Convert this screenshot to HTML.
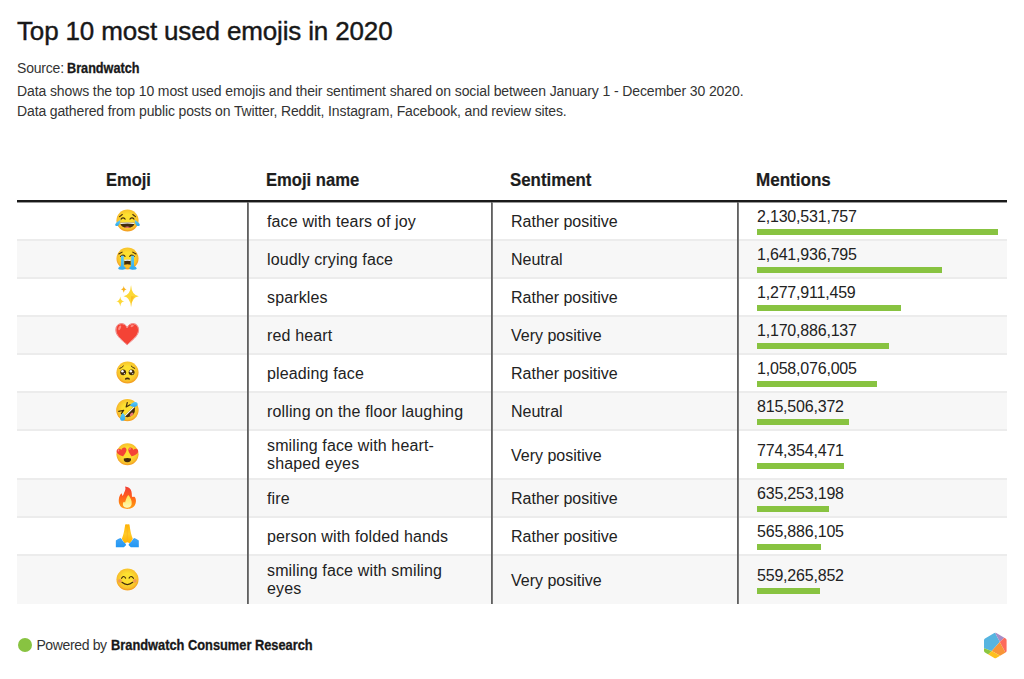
<!DOCTYPE html>
<html><head><meta charset="utf-8">
<style>
*{margin:0;padding:0;box-sizing:border-box}
html,body{width:1024px;height:679px;background:#fff;overflow:hidden}
body{position:relative;font-family:"Liberation Sans",sans-serif;color:#1d1d1d}
.t{position:absolute;white-space:nowrap;line-height:1;transform-origin:0 0}
#title{left:17px;top:18.4px;font-size:26px;color:#181818;letter-spacing:-0.15px;-webkit-text-stroke:0.4px #181818}
.note{font-size:14px;color:#333}
.hd{font-size:18px;font-weight:bold;color:#1d1d1d;-webkit-text-stroke:0.2px #1d1d1d}
b{-webkit-text-stroke:0.3px #181818}
.bd{font-size:16px;color:#222}
.num{letter-spacing:-0.2px}
.nm{letter-spacing:0.14px}
.row{position:absolute;left:17px;width:990px}
.g{background:#f7f7f7}
.bl{position:absolute;left:17px;width:990px;height:2px;background:#ececec}
.vl{position:absolute;width:2px;top:202px;height:402px;background:linear-gradient(to right,#606060 50%,#7a7a7a 50%)}
.bar{position:absolute;left:757px;height:6px;background:#88c341}
.emo{position:absolute;left:115.3px;width:25px;height:25px}
</style></head><body>
<div class="t" id="title">Top 10 most used emojis in 2020</div>
<div class="t note" style="left:17px;top:60.7px;letter-spacing:-0.2px">Source:</div>
<div class="t note sb" style="left:67px;top:60.7px;transform:scaleX(0.905)"><b style="color:#181818">Brandwatch</b></div>
<div class="t note" style="left:17px;top:84px;letter-spacing:-0.107px">Data shows the top 10 most used emojis and their sentiment shared on social between January 1 - December 30 2020.</div>
<div class="t note" style="left:17px;top:104px;letter-spacing:-0.133px">Data gathered from public posts on Twitter, Reddit, Instagram, Facebook, and review sites.</div>

<!-- header -->
<div class="t hd" style="left:105.8px;top:171px;transform:scaleX(0.917)">Emoji</div>
<div class="t hd" style="left:266px;top:171px;transform:scaleX(0.923)">Emoji name</div>
<div class="t hd" style="left:509.5px;top:171px;transform:scaleX(0.936)">Sentiment</div>
<div class="t hd" style="left:756px;top:171px;transform:scaleX(0.947)">Mentions</div>
<div style="position:absolute;left:17px;top:200px;width:990px;height:2px;background:#1a1a1a;box-shadow:0 1px 0 rgba(26,26,26,0.45)"></div>

<!-- row backgrounds -->
<div class="row g" style="top:241px;height:36px"></div>
<div class="row g" style="top:317px;height:36px"></div>
<div class="row g" style="top:393px;height:36px"></div>
<div class="row g" style="top:480px;height:36px"></div>
<div class="row g" style="top:556px;height:48px"></div>
<div class="bl" style="top:239px"></div>
<div class="bl" style="top:277px"></div>
<div class="bl" style="top:315px"></div>
<div class="bl" style="top:353px"></div>
<div class="bl" style="top:391px"></div>
<div class="bl" style="top:429px"></div>
<div class="bl" style="top:478px"></div>
<div class="bl" style="top:516px"></div>
<div class="bl" style="top:554px"></div>
<div class="vl" style="left:247px"></div>
<div class="vl" style="left:491px"></div>
<div class="vl" style="left:737px"></div>

<svg width="0" height="0" style="position:absolute"><defs>
<radialGradient id="fg" cx="63.6" cy="58" r="58" gradientUnits="userSpaceOnUse"><stop offset="0.45" stop-color="#FDE030"/><stop offset="0.88" stop-color="#F7C02B"/><stop offset="1" stop-color="#F4A223"/></radialGradient>
<linearGradient id="tear" x1="0" y1="0" x2="0" y2="1"><stop offset="0" stop-color="#5ecdf7"/><stop offset="1" stop-color="#2fa8ef"/></linearGradient>
<linearGradient id="flo" x1="0" y1="0" x2="0" y2="1"><stop offset="0" stop-color="#ef3e36"/><stop offset="0.4" stop-color="#ff5a1f"/><stop offset="0.8" stop-color="#ff8a10"/><stop offset="1" stop-color="#ffa21c"/></linearGradient>
<linearGradient id="fli" x1="0" y1="0" x2="0" y2="1"><stop offset="0" stop-color="#fde74c"/><stop offset="1" stop-color="#fff8b8"/></linearGradient>
<linearGradient id="hand" x1="0" y1="0" x2="0" y2="1"><stop offset="0" stop-color="#FFB300"/><stop offset="0.5" stop-color="#FFCA28"/><stop offset="1" stop-color="#FFB300"/></linearGradient>
<linearGradient id="slv" x1="0" y1="0" x2="0" y2="1"><stop offset="0" stop-color="#42A5F5"/><stop offset="1" stop-color="#2196F3"/></linearGradient>
<symbol id="e-joy" viewBox="0 0 128 128">
<circle cx="64" cy="64" r="58" fill="#fff"/>
<circle cx="64" cy="64" r="56.5" fill="url(#fg)"/>
<g fill="none" stroke="#422B0D" stroke-width="5.5" stroke-linecap="round">
<path d="M23.5 44 L37.5 33.5"/><path d="M105 44 L91 33.5"/>
<path d="M31 57 Q41 44 52 57"/><path d="M76.5 57 Q87 44 97.5 57"/>
</g>
<path d="M26.5 76 Q64 72 100.5 76 Q98 102 64 103 Q29 102 26.5 76Z" fill="#422B0D"/>
<path d="M27 76 Q64 72 100 76 L99.5 81.5 Q64 77.5 27.5 81.5Z" fill="#fff"/>
<path d="M48 99 Q63 90 78 99 Q64 105 48 99Z" fill="#ED7770"/>
<path d="M27 61 C21 66 4 73 1 84 C0 90 6 93 12 92 C20 90 26 80 27 61Z" fill="url(#tear)"/>
<path d="M101 61 C107 66 124 73 127 84 C128 90 122 93 116 92 C108 90 102 80 101 61Z" fill="url(#tear)"/>
</symbol>

<symbol id="e-sob" viewBox="0 0 128 128">
<circle cx="64" cy="64" r="58" fill="#fff"/>
<circle cx="64" cy="64" r="56.5" fill="url(#fg)"/>
<g fill="none" stroke="#422B0D" stroke-width="5.5" stroke-linecap="round">
<path d="M19.5 41 L36.5 31.5"/><path d="M107.5 41 L90.5 31.5"/>
<path d="M28 54 Q40 40 51.5 53"/><path d="M75 53 Q87 40 98.5 54"/>
</g>
<path d="M47.5 72 Q63.5 68 80 72 L80 97 Q63.5 101 47.5 97Z" fill="#422B0D"/>
<path d="M47.5 71 Q63.5 67 80 71 L80 77 Q63.5 74 47.5 77Z" fill="#fff"/>
<path d="M48 96 Q63.5 90 79.5 96 Q77 108 63.5 109 Q50 108 48 96Z" fill="#FBC02D"/>
<path d="M30.5 50 L44.5 50 L45 103 Q55 108 55.5 117 Q50 122 36 121 Q18 121 16 116 Q17 107 30.5 103Z" fill="url(#tear)"/>
<path d="M83 50 L97 50 L97.5 103 Q110 107 111.5 116 Q109 121 92 121 Q78 122 72.5 117 Q73 108 82.5 103Z" fill="url(#tear)"/>
</symbol>

<symbol id="e-spark" viewBox="0 0 128 128">
<path d="M82 5.7 Q85.5 58.5 121.7 62.3 Q85.5 66 82 119 Q78.5 66 43.7 62.3 Q78.5 58.5 82 5.7Z" fill="#FDD835"/>
<path d="M82 62.3 L82 119 Q85 71 101 63.5Z" fill="#F9B825" opacity="0.8"/>
<path d="M44.8 9 Q46.5 25.5 59.5 27.2 Q46.5 29 44.8 44.2 Q43.1 29 30.1 27.2 Q43.1 25.5 44.8 9Z" fill="#F9B21E"/>
<path d="M26.7 63.4 Q28.9 86 48.2 88.3 Q28.9 91 26.7 115.5 Q24.5 91 6.3 88.3 Q24.5 86 26.7 63.4Z" fill="#FDD835"/>
</symbol>

<symbol id="e-heart" viewBox="0 0 128 128">
<path d="M62 29 C56 14 44 7 31 8 C14 9 4 23 4 41 C4 72 38 94 62 117 C86 94 121 72 121 41 C121 23 111 9 94 8 C81 7 68 14 62 29Z" fill="#F44336" stroke="#fff" stroke-width="5" stroke-linejoin="round"/>
<path d="M62 29 C56 14 44 7 31 8 C14 9 4 23 4 41 C4 72 38 94 62 117 C86 94 121 72 121 41 C121 23 111 9 94 8 C81 7 68 14 62 29Z" fill="none" stroke="#E53935" stroke-width="3"/>
<ellipse cx="24" cy="30" rx="6" ry="13" transform="rotate(25 24 30)" fill="#FF8A80"/>
<ellipse cx="88" cy="20" rx="9" ry="5" transform="rotate(-25 88 20)" fill="#FF8A80"/>
</symbol>

<symbol id="e-plead" viewBox="0 0 128 128">
<circle cx="64" cy="64" r="58" fill="#fff"/>
<circle cx="64" cy="64" r="56.5" fill="url(#fg)"/>
<g fill="none" stroke="#422B0D" stroke-width="5" stroke-linecap="round">
<path d="M25 43 Q35 40 43 31"/><path d="M101 43 Q91 40 83 31"/>
</g>
<circle cx="42" cy="63" r="15" fill="#422B0D"/>
<circle cx="85" cy="63" r="15" fill="#422B0D"/>
<circle cx="38" cy="58" r="6.5" fill="#fff"/><circle cx="81" cy="58" r="6.5" fill="#fff"/>
<circle cx="48" cy="70" r="3" fill="#fff"/><circle cx="91" cy="70" r="3" fill="#fff"/>
<path d="M51 101 Q50 89 63.5 89 Q77 89 76 101 Q63.5 96 51 101Z" fill="#422B0D"/>
</symbol>

<symbol id="e-rofl" viewBox="0 0 128 128">
<circle cx="63.5" cy="62" r="59" fill="#fff"/>
<circle cx="63.5" cy="62" r="57.5" fill="url(#fg)"/>
<path d="M97 44 L50 90 Q54 99 64 98 Q82 95 94 83 Q104 71 102 52 Q101 46 97 44Z" fill="#422B0D"/>
<path d="M97 44 L50 90 L53.5 93.6 L100.5 47.6Z" fill="#fff"/>
<ellipse cx="85" cy="84" rx="11" ry="7" transform="rotate(-45 85 84)" fill="#ED7770"/>
<g fill="none" stroke="#422B0D" stroke-width="6" stroke-linecap="round" stroke-linejoin="round">
<path d="M63 23 L57 46 L77 34"/><path d="M19 68.6 L44.5 62.7 L32.8 80.3"/>
</g>
<path d="M76 40 Q84 26 98 21 Q114 17 116 30 Q117 43 104 45 Q90 47 76 40Z" fill="url(#tear)"/>
<path d="M40 76 Q51 86 52 100 Q53 116 39 117 Q26 117 26 104 Q27 88 40 76Z" fill="url(#tear)"/>
</symbol>

<symbol id="e-hearteyes" viewBox="0 0 128 128">
<circle cx="64" cy="63" r="58" fill="#fff"/>
<circle cx="64" cy="63" r="56.5" fill="url(#fg)"/>
<g fill="#F44336">
<path transform="translate(35.5 51) rotate(-15) scale(1.07)" d="M0 -10 C-4 -20 -22 -23 -24 -8 C-25 4 -9 14 0 22 C9 14 25 4 24 -8 C22 -23 4 -20 0 -10Z"/>
<path transform="translate(91.5 51) rotate(15) scale(1.07)" d="M0 -10 C-4 -20 -22 -23 -24 -8 C-25 4 -9 14 0 22 C9 14 25 4 24 -8 C22 -23 4 -20 0 -10Z"/>
</g>
<ellipse cx="18" cy="43" rx="3.5" ry="6" fill="#FF8A80" transform="rotate(20 18 43)"/>
<ellipse cx="77" cy="35" rx="3.5" ry="6" fill="#FF8A80" transform="rotate(20 77 35)"/>
<path d="M45 84 Q63 79 82 84 Q84 103 63 103.5 Q43 103 45 84Z" fill="#422B0D"/>
</symbol>

<symbol id="e-fire" viewBox="0 0 128 128">
<path d="M51.4 7.8 C60 9 66 11 69 12.7 C76 17 79 21 80.8 24.5 C84 31 85.5 37 85.7 42.1 C86.5 50 86.5 54 86.7 57.8 C88 60.5 89 61.5 90.6 61.7 C94 61.5 97 60.7 99.4 60.7 C102.5 63 104 66 105.3 69.5 C107 75 107.5 79 107.2 83.3 C107 91 105 97 102.3 102.9 C98 110 93 114 88.6 116.6 C80 121 72 122.5 63.1 122.5 C54 122.5 45 120 37.7 116.6 C31 113 27 107 23.9 100.9 C20.5 94 19 88 19 81.3 C19 75 19.8 69 21 63.7 C23 57 25 52 27.9 48 C30 45 32 43 33.7 42.1 C35 45 35.8 48 36.7 50 C37.5 53 38.5 55 39.6 55.8 C41.5 52 43.5 47 45.5 42.1 C48 37 50 33 51.4 28.4 C53 24 53.8 20 53.4 16.6 C53 13 52 10 51.4 7.8Z" fill="url(#flo)" stroke="#fff" stroke-width="3" paint-order="stroke"/>
<path d="M68 50.9 C72 55 75 59 76.9 63.7 C81 71 84 77 84.7 83.3 C85.5 90 85.5 96 84.7 100.9 C83 106 80 110 76.9 112.7 C72 115.5 68 116.6 63.1 116.6 C57 116.6 51 115 47.5 112.7 C43 109 41 105 40.6 100.9 C40.3 97 40.5 93.5 41.6 91.1 C43.5 88 45.5 86.5 47.5 86.2 C49 87.5 50.3 89.5 51.4 91.1 C52.5 86 53.5 81 55.3 77.4 C57 72 59 66 61.2 61.7 C63.5 57 66 53.5 68 50.9Z" fill="url(#fli)"/>
</symbol>

<symbol id="e-pray" viewBox="0 0 128 128">
<path d="M52.4 7.8 L57.3 5.8 L63.1 7.8 L69 5.8 L73.9 7.8 C75.5 18 77.5 30 78.9 38.2 C80.5 48 84 62 91 81 L78 104 L63.1 98 L48 104 L35 81 C42 62 45.5 48 47.3 38.2 C48.8 30 50.8 18 52.4 7.8Z" fill="url(#hand)"/>
<path d="M63.1 8 L63.1 97" stroke="#F9A825" stroke-width="2.5"/>
<path d="M4.3 89.1 C12 84 20 80 27.9 77.4 L33.7 81.3 C40 92 47 99 53.4 104.8 L57.3 112.7 L45.5 124.4 L4.3 124.4Z" fill="url(#slv)"/>
<path d="M121.9 89.1 C114 84 106 80 98.4 77.4 L92.5 81.3 C86 92 79 99 72.9 104.8 L69 112.7 L80.8 124.4 L121.9 124.4Z" fill="url(#slv)"/>
</symbol>

<symbol id="e-blush" viewBox="0 0 128 128">
<circle cx="64" cy="64" r="58" fill="#fff"/>
<circle cx="64" cy="64" r="56.5" fill="url(#fg)"/>
<circle cx="25" cy="70.5" r="9.5" fill="#ED7770" opacity="0.6"/>
<circle cx="101.4" cy="70.5" r="9.5" fill="#ED7770" opacity="0.6"/>
<g fill="none" stroke="#422B0D" stroke-width="6" stroke-linecap="round">
<path d="M33.7 57.8 Q43.5 40 54.3 56.8"/><path d="M72 56.8 Q82.7 40 94.5 57.8"/>
<path d="M35.7 78.4 Q63 102 90.6 78.4"/>
</g>
</symbol>
</defs></svg>
<!-- BODY -->
<div class="t bd nm" style="left:267px;top:214px">face with tears of joy</div>
<div class="t bd" style="left:511px;top:214px">Rather positive</div>
<div class="t bd num" style="left:757px;top:209px">2,130,531,757</div>
<div class="bar" style="top:229px;width:240.6px"></div>
<svg class="emo" style="top:207.7px" viewBox="0 0 128 128"><use href="#e-joy"/></svg>
<div class="t bd nm" style="left:267px;top:252px">loudly crying face</div>
<div class="t bd" style="left:511px;top:252px">Neutral</div>
<div class="t bd num" style="left:757px;top:247px">1,641,936,795</div>
<div class="bar" style="top:267px;width:185.4px"></div>
<svg class="emo" style="top:246.2px" viewBox="0 0 128 128"><use href="#e-sob"/></svg>
<div class="t bd nm" style="left:267px;top:290px">sparkles</div>
<div class="t bd" style="left:511px;top:290px">Rather positive</div>
<div class="t bd num" style="left:757px;top:285px">1,277,911,459</div>
<div class="bar" style="top:305px;width:144.3px"></div>
<svg class="emo" style="top:284.2px" viewBox="0 0 128 128"><use href="#e-spark"/></svg>
<div class="t bd nm" style="left:267px;top:328px">red heart</div>
<div class="t bd" style="left:511px;top:328px">Very positive</div>
<div class="t bd num" style="left:757px;top:323px">1,170,886,137</div>
<div class="bar" style="top:343px;width:132.2px"></div>
<svg class="emo" style="top:322.2px" viewBox="0 0 128 128"><use href="#e-heart"/></svg>
<div class="t bd nm" style="left:267px;top:366px">pleading face</div>
<div class="t bd" style="left:511px;top:366px">Rather positive</div>
<div class="t bd num" style="left:757px;top:361px">1,058,076,005</div>
<div class="bar" style="top:381px;width:119.5px"></div>
<svg class="emo" style="top:360.2px" viewBox="0 0 128 128"><use href="#e-plead"/></svg>
<div class="t bd nm" style="left:267px;top:404px">rolling on the floor laughing</div>
<div class="t bd" style="left:511px;top:404px">Neutral</div>
<div class="t bd num" style="left:757px;top:399px">815,506,372</div>
<div class="bar" style="top:419px;width:92.1px"></div>
<svg class="emo" style="top:398.2px" viewBox="0 0 128 128"><use href="#e-rofl"/></svg>
<div class="t bd nm" style="left:267px;top:438px">smiling face with heart-</div>
<div class="t bd nm" style="left:267px;top:456px">shaped eyes</div>
<div class="t bd" style="left:511px;top:448px">Very positive</div>
<div class="t bd num" style="left:757px;top:443px">774,354,471</div>
<div class="bar" style="top:463px;width:87.4px"></div>
<svg class="emo" style="top:441.7px" viewBox="0 0 128 128"><use href="#e-hearteyes"/></svg>
<div class="t bd nm" style="left:267px;top:491px">fire</div>
<div class="t bd" style="left:511px;top:491px">Rather positive</div>
<div class="t bd num" style="left:757px;top:486px">635,253,198</div>
<div class="bar" style="top:506px;width:71.7px"></div>
<svg class="emo" style="top:485.2px" viewBox="0 0 128 128"><use href="#e-fire"/></svg>
<div class="t bd nm" style="left:267px;top:529px">person with folded hands</div>
<div class="t bd" style="left:511px;top:529px">Rather positive</div>
<div class="t bd num" style="left:757px;top:524px">565,886,105</div>
<div class="bar" style="top:544px;width:63.9px"></div>
<svg class="emo" style="top:523.2px" viewBox="0 0 128 128"><use href="#e-pray"/></svg>
<div class="t bd nm" style="left:267px;top:563px">smiling face with smiling</div>
<div class="t bd nm" style="left:267px;top:581px">eyes</div>
<div class="t bd" style="left:511px;top:573px">Very positive</div>
<div class="t bd num" style="left:757px;top:568px">559,265,852</div>
<div class="bar" style="top:588px;width:63.2px"></div>
<svg class="emo" style="top:567.2px" viewBox="0 0 128 128"><use href="#e-blush"/></svg>

<!-- FOOTER -->
<div style="position:absolute;left:18.2px;top:638px;width:14.2px;height:14.2px;border-radius:50%;background:#88c341"></div>
<div class="t note" style="left:36.4px;top:638px;color:#333;letter-spacing:-0.36px">Powered by</div>
<div class="t note sb" style="left:110.8px;top:638px;transform:scaleX(0.916)"><b style="color:#181818">Brandwatch Consumer Research</b></div>
<svg style="position:absolute;left:982px;top:631px" width="27" height="29" viewBox="0 0 27 29"><defs><clipPath id="hx"><path d="M12.3 2.1 Q13.3 1.5 14.3 2.1 L23.6 7.5 Q24.6 8.1 24.6 9.2 L24.6 19.8 Q24.6 20.9 23.6 21.5 L14.3 26.9 Q13.3 27.5 12.3 26.9 L3 21.5 Q2 20.9 2 19.8 L2 9.2 Q2 8.1 3 7.5Z"/></clipPath></defs>
<g clip-path="url(#hx)">
<polygon points="0,7 11.75,-1 17.8,11.1 9.7,19.9 0,16.6" fill="#56b4e0"/>
<polygon points="11.75,-1 23.5,5.5 17.8,11.1" fill="#a78dc5"/>
<polygon points="23.5,5.5 27,7 27,28.3 17.8,11.1" fill="#fd6a5c"/>
<polygon points="17.8,11.1 27,28.3 17.8,24.4 9.7,19.9" fill="#f89537"/>
<polygon points="9.7,19.9 17.8,24.4 27,29 0,29 6.3,23.2" fill="#fec01e"/>
<polygon points="0,16.6 9.7,19.9 6.3,23.2 0,29" fill="#8cc63f"/>
</g></svg>

</body></html>
